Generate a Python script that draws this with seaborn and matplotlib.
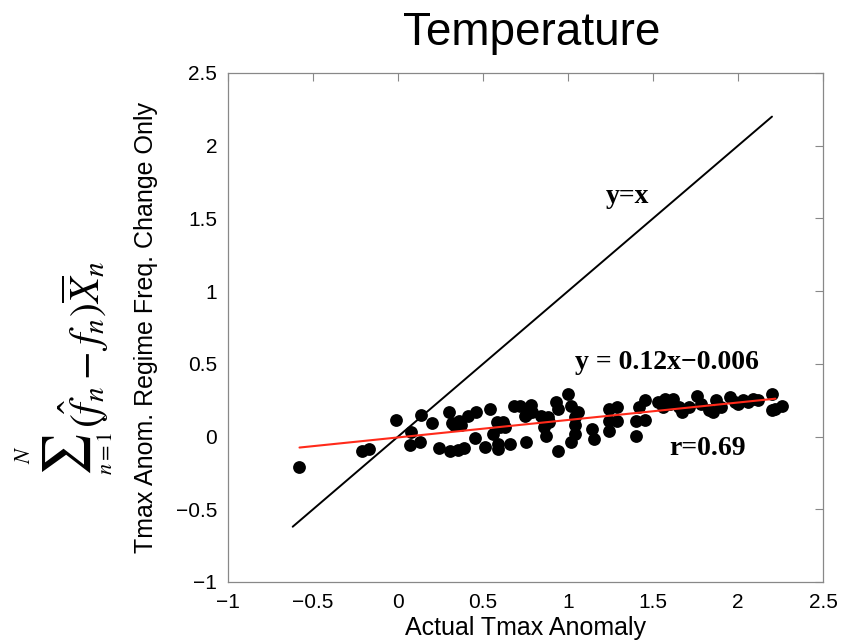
import numpy as np
import pandas as pd
import matplotlib
matplotlib.use("Agg")
import matplotlib.pyplot as plt
import seaborn as sns

# Scatter data
actual_anom = [-0.58, -0.21, -0.17, -0.01, 0.135, 0.075, 0.07, 0.13, 0.20, 0.24,
               0.30, 0.305, 0.35, 0.39, 0.32, 0.36, 0.41, 0.37, 0.33, 0.45,
               0.46, 0.54, 0.51, 0.56, 0.58, 0.62, 0.60, 0.63, 0.59, 0.59,
               0.66, 0.68, 0.72, 0.78, 0.79, 0.745, 0.76, 0.75, 0.84, 0.88,
               0.89, 0.86, 0.87, 0.93, 0.94, 0.94, 1.00, 1.02, 1.02, 1.06,
               1.04, 1.04, 1.04, 1.14, 1.15, 1.24, 1.29, 1.24, 1.29, 1.24,
               1.40, 1.45, 1.42, 1.45, 1.40, 1.53, 1.57, 1.60, 1.62, 1.65,
               1.67, 1.71, 1.76, 1.78, 1.83, 1.87, 1.90, 1.95, 1.98, 2.00,
               2.03, 2.06, 2.09, 2.20, 2.20, 2.26, 2.12, 1.85, 2.22, 1.56]
regime_anom = [-0.21, -0.10, -0.085, 0.115, 0.15, 0.03, -0.055, -0.035, 0.094, -0.078,
               0.167, -0.096, -0.09, -0.08, 0.094, 0.11, 0.144, 0.076, 0.076, -0.01,
               0.167, 0.19, -0.073, 0.018, 0.098, 0.098, 0.064, 0.064, -0.05, -0.085,
               -0.05, 0.21, 0.21, 0.22, 0.167, 0.144, 0.156, -0.039, 0.144, 0.133,
               0.098, 0.064, 0.007, 0.236, 0.19, -0.096, 0.295, -0.04, 0.213, 0.167,
               0.133, 0.076, 0.018, 0.053, -0.016, 0.19, 0.206, 0.11, 0.11, 0.04,
               0.11, 0.115, 0.20, 0.25, 0.007, 0.24, 0.26, 0.225, 0.26, 0.20,
               0.167, 0.20, 0.28, 0.225, 0.18, 0.25, 0.20, 0.27, 0.236, 0.225,
               0.25, 0.236, 0.26, 0.29, 0.18, 0.21, 0.25, 0.167, 0.19, 0.20]

# Reference lines
identity_x = [-0.62, 2.2]
fit_x = [-0.58, 2.22]
fit_slope = 0.12
fit_intercept = -0.006

xticks = [-1, -0.5, 0, 0.5, 1, 1.5, 2, 2.5]
yticks = [-1, -0.5, 0, 0.5, 1, 1.5, 2, 2.5]

df = pd.DataFrame({"x": actual_anom, "y": regime_anom})
ident = pd.DataFrame({"x": identity_x, "y": identity_x})
fit = pd.DataFrame({"x": fit_x, "y": [fit_slope * v + fit_intercept for v in fit_x]})

sns.set_style("white")
plt.rcParams['font.family'] = ['Liberation Sans', 'DejaVu Sans']
plt.rcParams['mathtext.fontset'] = 'stix'
plt.rcParams['text.color'] = 'black'
plt.rcParams['axes.labelcolor'] = 'black'
plt.rcParams['xtick.color'] = 'black'
plt.rcParams['ytick.color'] = 'black'

W, H = 848, 643
fig = plt.figure(figsize=(W / 100, H / 100), dpi=100)
ax = fig.add_axes([0.269, 0.0949, 0.7015, 0.7916])

sns.lineplot(data=ident, x="x", y="y", ax=ax, color="black", lw=1.4, zorder=2)
sns.scatterplot(data=df, x="x", y="y", ax=ax, color="black", s=85,
                edgecolor="black", linewidth=0, zorder=3)
sns.lineplot(data=fit, x="x", y="y", ax=ax, color="#ff2a1a", lw=1.5, zorder=4)

ax.set_xlim(-1, 2.5)
ax.set_ylim(-1, 2.5)
ax.set_xticks(xticks)
ax.set_yticks(yticks)
fmt = lambda v: ("%g" % v).replace("-", "\u2212")
ax.set_xticklabels([fmt(v) for v in xticks])
ax.set_yticklabels([fmt(v) for v in yticks])
ax.tick_params(direction="in", length=6, width=0.8, color="#888888",
               labelcolor="black", top=True, right=True, labelsize=15, pad=8)
for sp in ax.spines.values():
    sp.set_visible(True)
    sp.set_color("#888888")
    sp.set_linewidth(0.9)

ax.set_xlabel("Actual Tmax Anomaly", fontsize=18, labelpad=3)
ax.set_ylabel("Tmax Anom. Regime Freq. Change Only", fontsize=18)
ax.yaxis.set_label_coords(-0.118, 0.5)

# math part of y label, built from pieces (pixel positions -> figure fraction)
def ftext(px, py, s, size):
    fig.text(px / W, 1 - py / H, s, rotation=90, fontsize=size,
             ha="center", va="center")

ftext(67, 455, r"$\sum$", 34)
ftext(24, 455, r"$N$", 16)
ftext(106, 453, r"$n{=}1$", 16)
ftext(84, 345, r"$(\hat{f}_n - f_n)\overline{X}_n$", 30)

ax.set_title("Temperature", fontsize=33, pad=20, x=0.51)

serif = ['Liberation Serif', 'DejaVu Serif']
ax.text(1.35, 1.65, "y=x", family=serif, weight="bold", fontsize=20,
        ha="center", va="center")
ax.text(1.58, 0.51, "y = 0.12x\u22120.006", family=serif, weight="bold",
        fontsize=20, ha="center", va="center")
ax.text(1.82, -0.08, "r=0.69", family=serif, weight="bold", fontsize=20,
        ha="center", va="center")

fig.savefig("out.png", dpi=100, facecolor="white")
